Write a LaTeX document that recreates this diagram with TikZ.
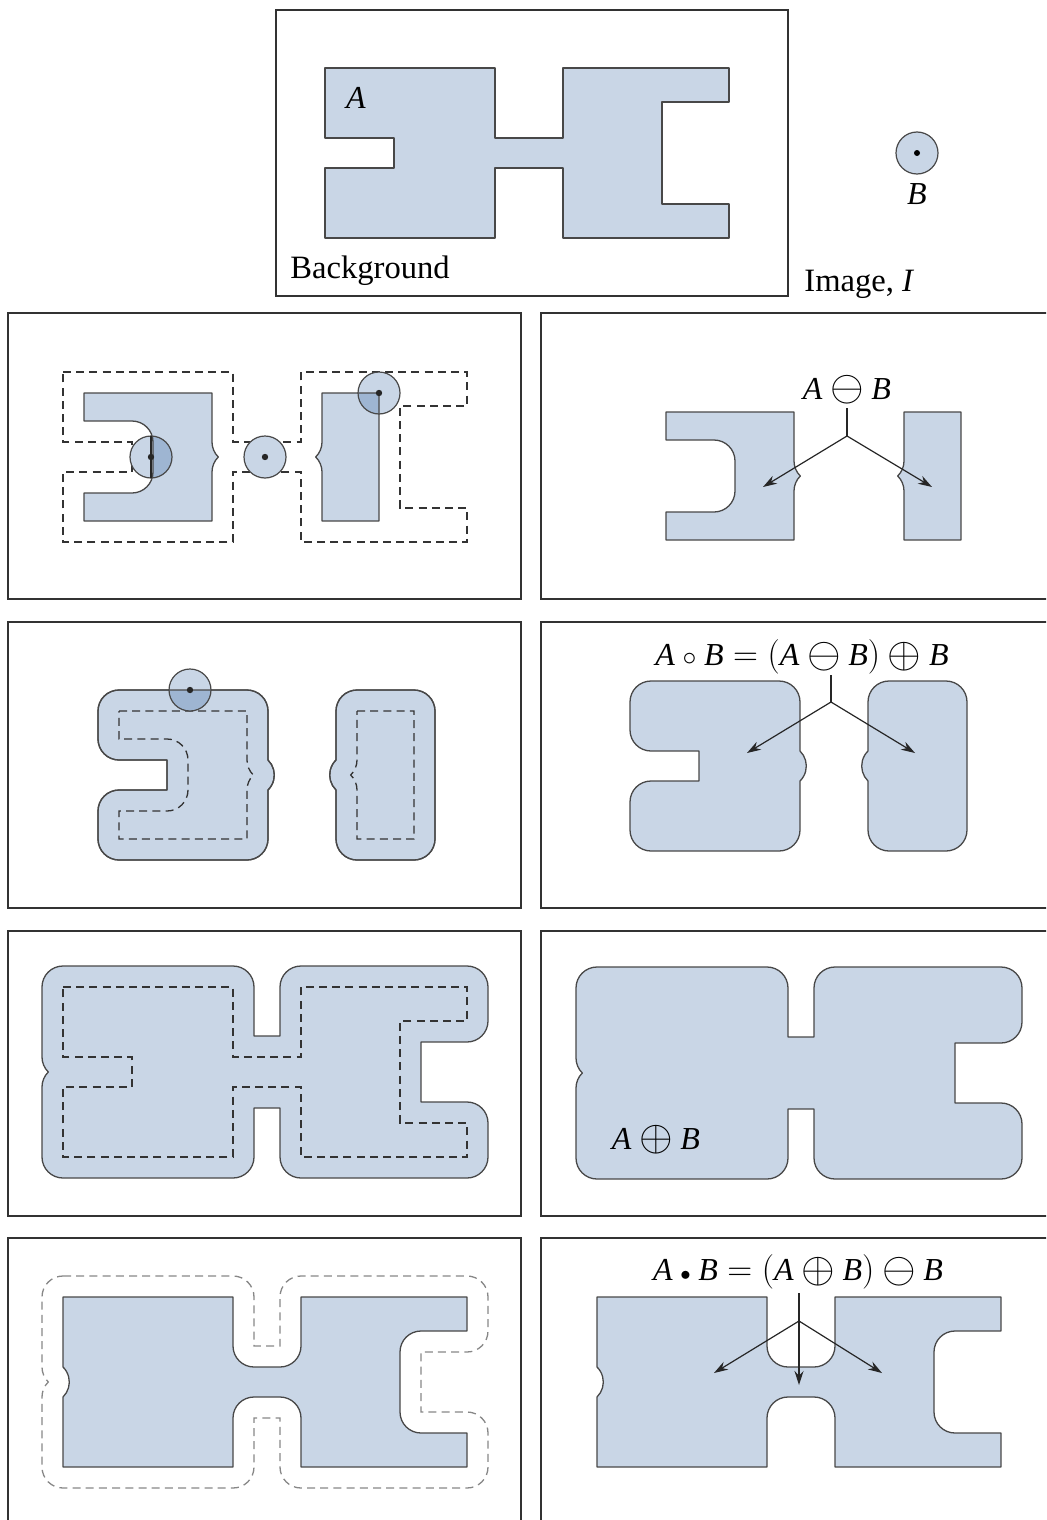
\documentclass[tikz,border=0pt]{standalone}
\usepackage{graphicx}
\usepackage{fontspec}
\setmainfont{Liberation Serif}
\usetikzlibrary{arrows.meta}
\definecolor{shapefill}{RGB}{201,214,230}
\definecolor{diskdark}{RGB}{158,181,210}
\definecolor{outl}{RGB}{72,72,72}
\definecolor{framec}{RGB}{50,50,50}
\definecolor{dashgray}{RGB}{135,135,135}
\newcommand{\iA}{\textit{A}}
\newcommand{\iB}{\textit{B}}
\newcommand{\erop}{\mathbin{\raisebox{-0.12ex}{\scalebox{1.25}{$\ominus$}}}}
\newcommand{\dilop}{\mathbin{\raisebox{-0.12ex}{\scalebox{1.25}{$\oplus$}}}}
\newcommand{\openop}{\mathbin{\scalebox{0.8}{$\circ$}}}
\newcommand{\closeop}{\mathbin{\scalebox{0.6}{$\bullet$}}}
% set A (local pixel coordinates, y downwards)
\def\pathA{(0,0) -- (170,0) -- (170,70) -- (238,70) -- (238,0) -- (404,0) -- (404,34) -- (337,34) -- (337,136) -- (404,136) -- (404,170) -- (238,170) -- (238,100) -- (170,100) -- (170,170) -- (0,170) -- (0,100) -- (69,100) -- (69,70) -- (0,70) -- cycle}
% erosion
\def\pathE{(21,21) -- (149,21) -- (149,70) arc[start angle=180,end angle=134.4,radius=21] arc[start angle=225.6,end angle=180,radius=21] -- (149,149) -- (21,149) -- (21,121) -- (69,121) arc[start angle=90,end angle=0,radius=21] -- (90,70) arc[start angle=0,end angle=-90,radius=21] -- (21,49) -- cycle
 (259,21) -- (316,21) -- (316,149) -- (259,149) -- (259,100) arc[start angle=0,end angle=-45.6,radius=21] arc[start angle=45.6,end angle=0,radius=21] -- cycle}
% opening
\def\pathO{(21,0) -- (149,0) arc[start angle=-90,end angle=0,radius=21] -- (170,70) arc[start angle=-45.6,end angle=45.6,radius=21] -- (170,149) arc[start angle=0,end angle=90,radius=21] -- (21,170) arc[start angle=90,end angle=180,radius=21] -- (0,121) arc[start angle=180,end angle=270,radius=21] -- (69,100) -- (69,70) -- (21,70) arc[start angle=90,end angle=180,radius=21] -- (0,21) arc[start angle=180,end angle=270,radius=21] -- cycle
 (259,0) -- (316,0) arc[start angle=-90,end angle=0,radius=21] -- (337,149) arc[start angle=0,end angle=90,radius=21] -- (259,170) arc[start angle=90,end angle=180,radius=21] -- (238,100) arc[start angle=134.4,end angle=225.6,radius=21] -- (238,21) arc[start angle=180,end angle=270,radius=21] -- cycle}
% dilation
\def\pathD{(0,-21) -- (170,-21) arc[start angle=-90,end angle=0,radius=21] -- (191,49) -- (217,49) -- (217,0) arc[start angle=180,end angle=270,radius=21] -- (404,-21) arc[start angle=-90,end angle=0,radius=21] -- (425,34) arc[start angle=0,end angle=90,radius=21] -- (358,55) -- (358,115) -- (404,115) arc[start angle=-90,end angle=0,radius=21] -- (425,170) arc[start angle=0,end angle=90,radius=21] -- (238,191) arc[start angle=90,end angle=180,radius=21] -- (217,121) -- (191,121) -- (191,170) arc[start angle=0,end angle=90,radius=21] -- (0,191) arc[start angle=90,end angle=180,radius=21] -- (-21,100) arc[start angle=180,end angle=225.6,radius=21] arc[start angle=134.4,end angle=180,radius=21] -- (-21,0) arc[start angle=180,end angle=270,radius=21] -- cycle}
% closing
\def\pathC{(0,0) -- (170,0) -- (170,49) arc[start angle=180,end angle=90,radius=21] -- (217,70) arc[start angle=90,end angle=0,radius=21] -- (238,0) -- (404,0) -- (404,34) -- (358,34) arc[start angle=-90,end angle=-180,radius=21] -- (337,115) arc[start angle=180,end angle=90,radius=21] -- (404,136) -- (404,170) -- (238,170) -- (238,121) arc[start angle=0,end angle=-90,radius=21] -- (191,100) arc[start angle=-90,end angle=-180,radius=21] -- (170,170) -- (0,170) -- (0,100) arc[start angle=45.6,end angle=-45.6,radius=21] -- cycle}
\tikzset{
  frame/.style={draw=framec, line width=0.9pt},
  region/.style={fill=shapefill, draw=outl, line width=0.65pt, line join=round},
  outline/.style={draw=outl, line width=0.65pt, line join=round},
  dashline/.style={draw=black!80, line width=0.65pt, dash pattern=on 4pt off 2.6pt},
  graydash/.style={draw=dashgray, line width=0.65pt, dash pattern=on 4pt off 2.6pt},
  diskline/.style={draw=outl, line width=0.6pt},
  lbl/.style={inner sep=0pt, font=\fontsize{16}{19}\selectfont},
  txt/.style={inner sep=0pt, font=\fontsize{16.3}{19}\selectfont},
  arr/.style={draw=black!85, line width=0.6pt, -{Stealth[length=7pt,width=4.5pt]}},
  stem/.style={draw=black!85, line width=0.6pt},
}
\begin{document}
\begin{tikzpicture}[x=0.5pt,y=-0.5pt]
\useasboundingbox (0,0) rectangle (1046,1520);
\clip (0,0) rectangle (1046,1520);
% frames
\draw[frame] (276,10) rectangle (788,296);
\draw[frame] (8,313) rectangle (521,599);
\draw[frame] (541,313) rectangle (1070,599);
\draw[frame] (8,622) rectangle (521,908);
\draw[frame] (541,622) rectangle (1070,908);
\draw[frame] (8,931) rectangle (521,1216);
\draw[frame] (541,931) rectangle (1070,1216);
\draw[frame] (8,1238) rectangle (521,1560);
\draw[frame] (541,1238) rectangle (1070,1560);

% ---- top: image I, set A, structuring element B
\begin{scope}[shift={(325,68)}]
  \path[region] \pathA;
\end{scope}
\node[lbl] (lblA) at (356,98) {\iA};
\node[txt, anchor=base west] (bg) at (290,278) {Background};
\node[txt, anchor=base west] (img) at (804,291) {Image, \textit{I}};
\fill[shapefill] (917,153) circle[radius=21];
\draw[diskline] (917,153) circle[radius=21];
\fill[black] (917,153) circle[radius=3];
\node[lbl] (lblB) at (917,194) {\iB};

% ---- row 2 left: erosion construction
\begin{scope}[shift={(63,372)}]
  \fill[shapefill] \pathE;
  \path[dashline] \pathA;
  \foreach \cx/\cy in {88/85, 202/85, 316/21} {\fill[shapefill] (\cx,\cy) circle[radius=21];}
  \begin{scope}
    \clip \pathE;
    \foreach \cx/\cy in {88/85, 316/21} {\fill[diskdark] (\cx,\cy) circle[radius=21];}
  \end{scope}
  \path[outline] \pathE;
  \foreach \cx/\cy in {88/85, 202/85, 316/21} {
    \draw[diskline] (\cx,\cy) circle[radius=21];
    \fill[black!85] (\cx,\cy) circle[radius=3.2];}
  \draw[black!85, line width=1.3pt] (88,64) -- (88,106);
\end{scope}

% ---- row 2 right: erosion
\begin{scope}[shift={(645,391)}]
  \path[region] \pathE;
\end{scope}
\node[lbl] (lblE) at (847,390) {$\iA\erop\iB$};
\coordinate (eS) at (847,408);
\coordinate (eB) at (847,436);
\coordinate (eL) at (763,487);
\coordinate (eR) at (932,487);
\draw[stem] (eS) -- (eB);
\draw[arr] (eB) -- (eL);
\draw[arr] (eB) -- (eR);

% ---- row 3 left: opening construction
\begin{scope}[shift={(98,690)}]
  \path[region] \pathO;
  \path[dashline] \pathE;
  \fill[shapefill] (92,0) circle[radius=21];
  \begin{scope}
    \clip \pathO;
    \fill[diskdark] (92,0) circle[radius=21];
  \end{scope}
  \path[outline] \pathO;
  \draw[diskline] (92,0) circle[radius=21];
  \fill[black!85] (92,0) circle[radius=3.2];
\end{scope}

% ---- row 3 right: opening
\begin{scope}[shift={(630,681)}]
  \path[region] \pathO;
\end{scope}
\node[lbl] (lblO) at (802,657) {$\iA\openop\iB=(\iA\erop\iB)\dilop\iB$};
\coordinate (oS) at (831,675);
\coordinate (oB) at (831,702);
\coordinate (oL) at (747,753);
\coordinate (oR) at (915,753);
\draw[stem] (oS) -- (oB);
\draw[arr] (oB) -- (oL);
\draw[arr] (oB) -- (oR);

% ---- row 4 left: dilation construction
\begin{scope}[shift={(63,987)}]
  \path[region] \pathD;
  \path[dashline] \pathA;
\end{scope}

% ---- row 4 right: dilation
\begin{scope}[shift={(597,988)}]
  \path[region] \pathD;
\end{scope}
\node[lbl] (lblD) at (656,1140) {$\iA\dilop\iB$};

% ---- row 5 left: closing construction
\begin{scope}[shift={(63,1297)}]
  \path[region] \pathC;
  \path[graydash] \pathD;
\end{scope}

% ---- row 5 right: closing
\begin{scope}[shift={(597,1297)}]
  \path[region] \pathC;
\end{scope}
\node[lbl] (lblC) at (798,1272) {$\iA\closeop\iB=(\iA\dilop\iB)\erop\iB$};
\coordinate (cS) at (799,1293);
\coordinate (cB) at (799,1321);
\coordinate (cD) at (799,1385);
\coordinate (cL) at (714,1373);
\coordinate (cR) at (882,1373);
\draw[arr] (cS) -- (cD);
\draw[arr] (cB) -- (cL);
\draw[arr] (cB) -- (cR);
\end{tikzpicture}
\end{document}
